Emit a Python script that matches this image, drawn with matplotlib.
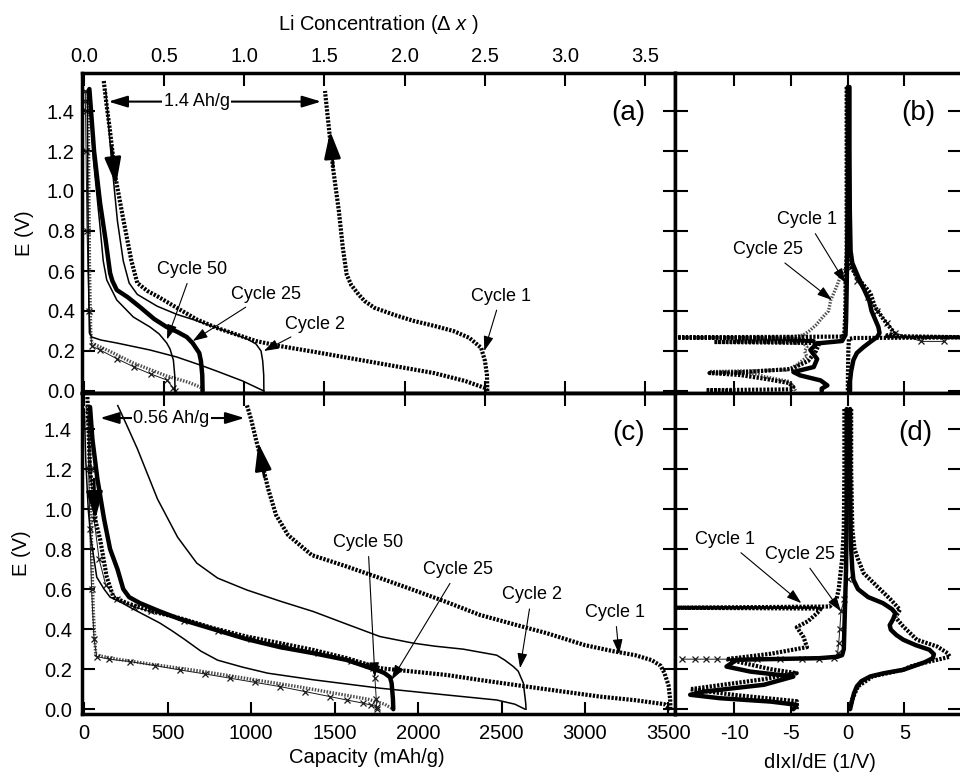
import matplotlib
matplotlib.use('Agg')
import matplotlib.pyplot as plt

plt.rcParams['font.family'] = ['Liberation Sans', 'DejaVu Sans']
plt.rcParams['mathtext.fontset'] = 'custom'
plt.rcParams['mathtext.rm'] = 'Liberation Sans'
plt.rcParams['mathtext.it'] = 'Liberation Sans:italic'

MAH_PER_LI = 960.0
li_ticks = [0.0, 0.5, 1.0, 1.5, 2.0, 2.5, 3.0, 3.5]
cap_ticks = [0, 500, 1000, 1500, 2000, 2500, 3000, 3500]
v_ticks = [0.0, 0.2, 0.4, 0.6, 0.8, 1.0, 1.2, 1.4]
dxde_ticks = [-10, -5, 0, 5]

# ---------------- panel (a): capacity (mAh/g) vs E (V)
a_c1_dis_cap = [118, 135, 154, 189, 237, 284, 319, 380, 438, 556, 674, 793, 911, 1029, 1171, 1384, 1621, 1857, 2094, 2283, 2401, 2415]
a_c1_dis_v = [1.55, 1.43, 1.31, 1.065, 0.85, 0.65, 0.54, 0.50, 0.474, 0.416, 0.358, 0.316, 0.283, 0.25, 0.225, 0.195, 0.16, 0.125, 0.09, 0.05, 0.015, 0.0]
a_c1_chg_cap = [2415, 2413, 2401, 2378, 2307, 2212, 2100, 1976, 1860, 1739, 1680, 1644, 1600, 1573, 1550, 1526, 1491, 1467, 1443]
a_c1_chg_v = [0.0, 0.08, 0.15, 0.216, 0.266, 0.30, 0.325, 0.35, 0.38, 0.416, 0.45, 0.483, 0.53, 0.582, 0.715, 0.90, 1.115, 1.31, 1.50]
a_c2_dis_cap = [20, 22, 26, 32, 46, 100, 196, 395, 555, 695, 793, 950, 1077]
a_c2_dis_v = [1.5, 1.1, 0.6, 0.29, 0.27, 0.255, 0.24, 0.205, 0.17, 0.13, 0.10, 0.05, 0.0]
a_c2_chg_cap = [1077, 1076, 1070, 1060, 1030, 982, 900, 793, 680, 556, 438, 319, 270, 235, 200, 165, 130]
a_c2_chg_v = [0.0, 0.08, 0.15, 0.2, 0.235, 0.258, 0.285, 0.316, 0.35, 0.383, 0.424, 0.483, 0.54, 0.65, 0.85, 1.15, 1.5]
a_c25_chg_cap = [710, 708, 700, 690, 650, 615, 560, 495, 420, 335, 260, 196, 170, 156, 130, 96, 60, 32]
a_c25_chg_v = [0.0, 0.08, 0.15, 0.19, 0.24, 0.27, 0.295, 0.32, 0.36, 0.42, 0.47, 0.505, 0.55, 0.59, 0.75, 0.94, 1.2, 1.51]
a_c25_dis_cap = [25, 28, 33, 40, 46, 150, 295, 495, 620, 695, 710]
a_c25_dis_v = [1.5, 1.1, 0.6, 0.3, 0.24, 0.2, 0.14, 0.075, 0.045, 0.02, 0.0]
a_c50_chg_cap = [545, 543, 535, 515, 495, 450, 395, 295, 196, 136, 115, 96, 56, 36]
a_c50_chg_v = [0.0, 0.08, 0.155, 0.21, 0.24, 0.285, 0.32, 0.37, 0.455, 0.555, 0.65, 0.82, 1.155, 1.49]
a_c50_dis_cap = [8, 8, 9, 12, 18, 30, 46, 96, 200, 300, 400, 495, 535, 545]
a_c50_dis_v = [1.5, 1.45, 1.4, 1.2, 0.8, 0.4, 0.225, 0.205, 0.16, 0.12, 0.085, 0.055, 0.015, 0.0]

# ---------------- panel (c)
c_c1_dis_cap = [20, 36, 56, 66, 96, 136, 176, 256, 400, 575, 774, 974, 1174, 1373, 1573, 1772, 1972, 2172, 2371, 2651, 2870, 3090, 3300, 3476, 3512]
c_c1_dis_v = [1.56, 1.18, 1.10, 0.95, 0.85, 0.66, 0.56, 0.53, 0.49, 0.455, 0.405, 0.363, 0.33, 0.296, 0.255, 0.205, 0.188, 0.171, 0.146, 0.113, 0.088, 0.063, 0.045, 0.025, 0.0]
c_c1_chg_cap = [3512, 3510, 3500, 3476, 3453, 3400, 3300, 3168, 3000, 2770, 2571, 2371, 2172, 1972, 1773, 1573, 1364, 1222, 1150, 1103, 1060, 1032, 1000, 973]
c_c1_chg_v = [0.0, 0.05, 0.12, 0.18, 0.217, 0.245, 0.27, 0.29, 0.32, 0.38, 0.425, 0.471, 0.535, 0.596, 0.655, 0.713, 0.77, 0.87, 0.97, 1.1, 1.25, 1.34, 1.45, 1.525]
c_c2_dis_cap = [2, 10, 25, 40, 76, 120, 156, 230, 295, 375, 455, 530, 600, 700, 800, 950, 1100, 1373, 1772, 2172, 2471, 2580, 2641]
c_c2_dis_v = [1.5, 1.25, 1.0, 0.86, 0.66, 0.6, 0.56, 0.53, 0.5, 0.465, 0.43, 0.39, 0.35, 0.29, 0.245, 0.21, 0.18, 0.147, 0.105, 0.071, 0.046, 0.025, 0.0]
c_c2_chg_cap = [2647, 2645, 2631, 2600, 2571, 2520, 2471, 2371, 2271, 2100, 1972, 1772, 1573, 1373, 1174, 974, 800, 675, 560, 440, 320, 250, 202]
c_c2_chg_v = [0.0, 0.03, 0.13, 0.19, 0.213, 0.245, 0.27, 0.285, 0.30, 0.315, 0.33, 0.363, 0.425, 0.488, 0.54, 0.596, 0.655, 0.73, 0.86, 1.05, 1.3, 1.43, 1.517]
c_c25_chg_cap = [1852, 1850, 1842, 1832, 1800, 1772, 1700, 1573, 1373, 1174, 974, 774, 575, 450, 335, 270, 235, 200, 156, 120, 80, 50, 36]
c_c25_chg_v = [0.0, 0.05, 0.13, 0.16, 0.18, 0.19, 0.21, 0.246, 0.28, 0.31, 0.35, 0.40, 0.45, 0.49, 0.53, 0.56, 0.6, 0.7, 0.8, 0.95, 1.15, 1.35, 1.51]
c_c25_dis_cap = [30, 40, 55, 70, 200, 400, 700, 1000, 1300, 1500, 1700, 1800, 1852]
c_c25_dis_v = [1.5, 1.0, 0.5, 0.27, 0.25, 0.225, 0.19, 0.15, 0.11, 0.08, 0.05, 0.025, 0.0]
c_c50_dis_cap = [24, 28, 35, 45, 60, 76, 150, 275, 425, 575, 725, 874, 1024, 1174, 1324, 1473, 1573, 1673, 1720, 1752]
c_c50_dis_v = [1.5, 1.2, 0.9, 0.6, 0.35, 0.263, 0.25, 0.238, 0.218, 0.196, 0.176, 0.155, 0.134, 0.113, 0.088, 0.063, 0.046, 0.03, 0.02, 0.013]
c_c50_chg_cap = [1752, 1750, 1742, 1733, 1700, 1600, 1400, 1200, 1000, 800, 600, 400, 300, 200, 130, 90, 60, 40, 25]
c_c50_chg_v = [0.0, 0.05, 0.155, 0.205, 0.22, 0.24, 0.28, 0.315, 0.35, 0.39, 0.44, 0.49, 0.51, 0.55, 0.62, 0.75, 0.95, 1.2, 1.45]

# ---------------- panel (b): d|x|/dE (1/V) vs E (V)
b_c25_chg_v = [1.52, 1.2, 0.9, 0.7, 0.64, 0.6, 0.56, 0.5, 0.45, 0.4, 0.36, 0.32, 0.29, 0.27, 0.25, 0.22, 0.19, 0.155, 0.1, 0.05, 0.0]
b_c25_chg_d = [0.15, 0.15, 0.18, 0.25, 0.4, 0.7, 1.0, 1.5, 1.9, 2.1, 2.4, 2.7, 2.8, 2.6, 2.1, 1.4, 0.8, 0.5, 0.3, 0.2, 0.2]
b_c1_chg_v = [1.52, 1.2, 0.9, 0.7, 0.62, 0.57, 0.49, 0.42, 0.355, 0.305, 0.288, 0.275, 0.268, 0.265, 0.26, 0.2, 0.1, 0.0]
b_c1_chg_d = [-0.05, -0.05, -0.05, 0.0, 0.3, 0.8, 2.0, 2.4, 3.2, 3.9, 4.1, 3.3, 11.0, 0.5, 0.1, 0.05, 0.02, 0.0]
b_c1_dis_v = [1.52, 1.0, 0.7, 0.6, 0.55, 0.45, 0.35, 0.29, 0.272, 0.268, 0.262, 0.25, 0.245, 0.24, 0.2, 0.15, 0.11, 0.095, 0.09, 0.08, 0.06, 0.04, 0.02, 0.008, 0.004, 0.0]
b_c1_dis_d = [-0.1, -0.1, -0.1, -0.15, -0.2, -0.2, -0.25, -0.3, -0.4, -16.0, -6.0, -3.0, -11.8, -2.5, -2.8, -3.5, -5.0, -9.0, -12.2, -9.5, -7.2, -5.2, -4.8, -5.0, -12.5, -10.0]
b_c25_dis_v = [1.52, 1.0, 0.7, 0.5, 0.35, 0.28, 0.25, 0.238, 0.205, 0.16, 0.12, 0.095, 0.078, 0.053, 0.028, 0.012, 0.0]
b_c25_dis_d = [0.0, 0.0, -0.05, -0.1, -0.15, -0.2, -0.5, -2.7, -3.3, -2.7, -3.0, -4.8, -4.2, -2.4, -1.8, -2.3, -2.3]
b_c50_dis_v = [0.62, 0.58, 0.52, 0.455, 0.40, 0.37, 0.33, 0.30, 0.28, 0.27, 0.267, 0.262, 0.25, 0.238, 0.22, 0.2, 0.17, 0.13, 0.105, 0.097, 0.085, 0.072, 0.047, 0.02, 0.0]
b_c50_dis_d = [-0.1, -0.6, -1.0, -1.5, -1.7, -2.2, -2.8, -3.4, -3.9, -5.0, -14.5, -4.0, -9.8, -3.9, -3.6, -3.8, -3.6, -4.5, -5.4, -12.2, -8.0, -7.4, -5.1, -4.8, -4.6]
b_c50_chg_v = [0.62, 0.55, 0.47, 0.40, 0.34, 0.29, 0.248, 0.248]
b_c50_chg_d = [0.3, 0.8, 1.8, 2.6, 3.5, 4.2, 6.5, 8.5]

# ---------------- panel (d)
d_c25_chg_v = [1.5, 1.2, 0.9, 0.8, 0.7, 0.647, 0.6, 0.56, 0.53, 0.5, 0.48, 0.45, 0.42, 0.397, 0.37, 0.347, 0.32, 0.297, 0.275, 0.255, 0.235, 0.215, 0.197, 0.18, 0.164, 0.14, 0.114, 0.08, 0.047, 0.0]
d_c25_chg_d = [0.2, 0.2, 0.25, 0.3, 0.4, 0.5, 0.9, 1.8, 3.1, 3.9, 4.2, 4.0, 3.7, 3.8, 4.3, 4.9, 6.0, 7.2, 7.6, 7.5, 6.8, 5.8, 4.9, 3.2, 2.0, 1.2, 0.8, 0.55, 0.4, 0.2]
d_c1_chg_v = [1.5, 1.2, 0.9, 0.8, 0.75, 0.68, 0.613, 0.547, 0.497, 0.46, 0.413, 0.38, 0.347, 0.313, 0.28, 0.262, 0.247, 0.23, 0.213, 0.197, 0.164, 0.114, 0.05, 0.0]
d_c1_chg_d = [0.3, 0.3, 0.4, 0.6, 0.9, 1.4, 2.6, 3.8, 4.6, 4.2, 4.9, 5.5, 6.1, 7.9, 8.8, 9.0, 7.9, 6.6, 5.5, 4.9, 2.2, 0.9, 0.4, 0.2]
d_c1_dis_v = [1.5, 1.2, 0.9, 0.75, 0.6, 0.547, 0.513, 0.507, 0.503, 0.5, 0.48, 0.44, 0.41, 0.36, 0.31, 0.277, 0.25, 0.2, 0.18, 0.15, 0.1, 0.07, 0.04, 0.0]
d_c1_dis_d = [-0.3, -0.3, -0.35, -0.5, -0.8, -1.0, -1.6, -15.5, -3.0, -2.4, -2.7, -3.5, -4.5, -3.9, -3.6, -6.8, -10.7, -6.8, -4.5, -7.4, -13.9, -9.8, -4.5, -4.5]
d_c25_dis_v = [1.5, 1.0, 0.7, 0.5, 0.4, 0.3, 0.27, 0.262, 0.255, 0.247, 0.213, 0.188, 0.163, 0.122, 0.088, 0.072, 0.055, 0.038, 0.022, 0.0]
d_c25_dis_d = [-0.1, -0.1, -0.15, -0.25, -0.3, -0.35, -0.5, -0.9, -2.5, -9.8, -10.7, -8.6, -4.8, -7.4, -12.7, -13.9, -11.3, -6.8, -4.5, -4.8]
d_c50_dis_v = [0.65, 0.55, 0.489, 0.4, 0.33, 0.28, 0.258, 0.252, 0.25, 0.25, 0.25, 0.25, 0.25, 0.25, 0.25, 0.25]
d_c50_dis_d = [0.0, -0.3, -0.6, -0.7, -0.8, -0.9, -1.2, -2.5, -4.0, -6.0, -8.0, -10.0, -11.5, -12.5, -13.5, -14.6]

# line looks
CHAIN = dict(color='k', lw=3.0, ls=(0, (0.55, 0.35)), dash_capstyle='butt')
THIN = dict(color='k', lw=1.1)
THICK = dict(color='k', lw=3.2, solid_capstyle='round')
HATCH = dict(color='0.3', lw=2.4, ls=(0, (0.45, 0.45)), dash_capstyle='butt')
XLINE = dict(color='0.1', lw=0.7, marker='x', ms=4, mew=0.9)

FS = 14.5
W, H = 960.0, 774.0
fig = plt.figure(figsize=(9.6, 7.74), dpi=100)
ax_a = fig.add_axes([81.7 / W, 1 - 393 / H, (675 - 81.7) / W, 320 / H])
ax_c = fig.add_axes([81.7 / W, 1 - 714 / H, (675 - 81.7) / W, 321 / H])
ax_b = fig.add_axes([675 / W, 1 - 393 / H, 285 / W, 320 / H])
ax_d = fig.add_axes([675 / W, 1 - 714 / H, 285 / W, 321 / H])

# panel (a)
ax_a.plot(a_c25_dis_cap, a_c25_dis_v, **HATCH)
ax_a.plot(a_c50_dis_cap, a_c50_dis_v, **XLINE)
ax_a.plot(a_c50_chg_cap, a_c50_chg_v, **THIN)
ax_a.plot(a_c2_dis_cap, a_c2_dis_v, **THIN)
ax_a.plot(a_c2_chg_cap, a_c2_chg_v, **THIN)
ax_a.plot(a_c1_dis_cap, a_c1_dis_v, **CHAIN)
ax_a.plot(a_c1_chg_cap, a_c1_chg_v, **CHAIN)
ax_a.plot(a_c25_chg_cap, a_c25_chg_v, **THICK)

# panel (c)
ax_c.plot(c_c25_dis_cap, c_c25_dis_v, **HATCH)
ax_c.plot(c_c50_dis_cap, c_c50_dis_v, **XLINE)
ax_c.plot(c_c50_chg_cap, c_c50_chg_v, **XLINE)
ax_c.plot(c_c2_dis_cap, c_c2_dis_v, **THIN)
ax_c.plot(c_c2_chg_cap, c_c2_chg_v, **THIN)
ax_c.plot(c_c1_dis_cap, c_c1_dis_v, **CHAIN)
ax_c.plot(c_c1_chg_cap, c_c1_chg_v, **CHAIN)
ax_c.plot(c_c25_chg_cap, c_c25_chg_v, **THICK)

# panel (b)
ax_b.plot(b_c50_dis_d, b_c50_dis_v, **HATCH)
ax_b.plot(b_c50_chg_d, b_c50_chg_v, **XLINE)
ax_b.plot(b_c1_dis_d, b_c1_dis_v, **CHAIN)
ax_b.plot(b_c1_chg_d, b_c1_chg_v, **CHAIN)
ax_b.plot(b_c25_dis_d, b_c25_dis_v, **THICK)
ax_b.plot(b_c25_chg_d, b_c25_chg_v, **THICK)

# panel (d)
ax_d.plot(d_c50_dis_d, d_c50_dis_v, **XLINE)
ax_d.plot(d_c1_dis_d, d_c1_dis_v, **CHAIN)
ax_d.plot(d_c1_chg_d, d_c1_chg_v, **CHAIN)
ax_d.plot(d_c25_dis_d, d_c25_dis_v, **THICK)
ax_d.plot(d_c25_chg_d, d_c25_chg_v, **THICK)


def label(ax, text, xy_text, xy_tip):
    ax.annotate(text, xy=xy_tip, xytext=xy_text, ha='center', va='center', fontsize=13,
                arrowprops=dict(arrowstyle='-|>,head_length=0.9,head_width=0.3', color='k',
                                lw=0.8, mutation_scale=10, shrinkA=2, shrinkB=0))


def big_arrow(ax, tail, tip):
    ax.annotate('', xy=tip, xytext=tail,
                arrowprops=dict(arrowstyle='-|>,head_length=1.65,head_width=0.5', color='k',
                                lw=2, mutation_scale=10, shrinkA=0, shrinkB=0))


def span(ax, x0, x1, y, text, xt):
    ax.annotate('', xy=(x1, y), xytext=(x0, y),
                arrowprops=dict(arrowstyle='<|-|>,head_length=1.15,head_width=0.35', color='k',
                                lw=1.5, mutation_scale=10, shrinkA=0, shrinkB=0))
    ax.text(xt, y, text, ha='center', va='center', fontsize=13, zorder=5,
            bbox=dict(fc='white', ec='none', pad=1))


label(ax_a, 'Cycle 50', (647, 0.607), (497, 0.258))
label(ax_a, 'Cycle 25', (1088, 0.483), (651, 0.25))
label(ax_a, 'Cycle 2', (1384, 0.333), (1077, 0.2))
label(ax_a, 'Cycle 1', (2496, 0.474), (2397, 0.2))
big_arrow(ax_a, (165, 1.22), (192, 1.03))
big_arrow(ax_a, (1492, 1.12), (1474, 1.30))
span(ax_a, 146, 1420, 1.447, '1.4 Ah/g', 674)

label(ax_c, 'Cycle 50', (1700, 0.833), (1742, 0.16))
label(ax_c, 'Cycle 25', (2241, 0.697), (1842, 0.147))
label(ax_c, 'Cycle 2', (2681, 0.571), (2611, 0.205))
label(ax_c, 'Cycle 1', (3180, 0.483), (3204, 0.275))
big_arrow(ax_c, (60, 1.15), (68, 0.95))
big_arrow(ax_c, (1080, 1.16), (1044, 1.33))
span(ax_c, 96, 961, 1.455, '0.56 Ah/g', 522)

label(ax_b, 'Cycle 1', (-3.6, 0.855), (-0.2, 0.54))
label(ax_b, 'Cycle 25', (-7.0, 0.705), (-1.4, 0.455))
label(ax_d, 'Cycle 1', (-10.8, 0.847), (-4.1, 0.53))
label(ax_d, 'Cycle 25', (-4.2, 0.772), (-0.6, 0.489))

# axes limits, ticks, frames
for ax in (ax_a, ax_c):
    ax.set_xlim(-14, 3539)
for ax in (ax_b, ax_d):
    ax.set_xlim(-15.24, 9.9)
ax_a.set_ylim(-0.01, 1.59)
ax_b.set_ylim(-0.01, 1.59)
ax_c.set_ylim(-0.024, 1.58)
ax_d.set_ylim(-0.024, 1.58)

v_labels = ['%.1f' % v for v in v_ticks]
for ax in (ax_a, ax_b, ax_c, ax_d):
    ax.tick_params(direction='in', length=9, width=1.5, top=True, right=True,
                   labelsize=FS, pad=7)
    for s in ax.spines.values():
        s.set_linewidth(2.5)
    ax.set_yticks(v_ticks)

li_pos = [l * MAH_PER_LI for l in li_ticks]
ax_a.set_xticks(li_pos)
ax_a.set_xticklabels(['%.1f' % l for l in li_ticks])
ax_a.tick_params(labelbottom=False, labeltop=True, pad=5)
ax_a.xaxis.set_label_position('top')
ax_a.set_xlabel(r'Li Concentration ($\Delta$ $\mathit{x}$ )', fontsize=FS, labelpad=12)
ax_a.set_yticklabels(v_labels)
ax_a.set_ylabel('E (V)', fontsize=FS, labelpad=9)

ax_c.set_xticks(cap_ticks)
ax_c.set_xticklabels([str(c) for c in cap_ticks])
ax_c.tick_params(top=False)
ax_c.set_yticklabels(v_labels)
ax_c.set_ylabel('E (V)', fontsize=FS, labelpad=9)
ax_c.set_xlabel('Capacity (mAh/g)', fontsize=FS)
ax_c.xaxis.set_label_coords(0.481, -0.105)
sec = ax_c.secondary_xaxis('top', functions=(lambda c: c / MAH_PER_LI, lambda l: l * MAH_PER_LI))
sec.set_xticks(li_ticks)
sec.tick_params(direction='in', length=9, width=1.5, labeltop=False)
sec.spines['top'].set_linewidth(2.5)

for ax in (ax_b, ax_d):
    ax.set_xticks(dxde_ticks)
    ax.tick_params(labelleft=False)
    ax.spines['right'].set_visible(False)
ax_b.tick_params(labelbottom=False)
ax_d.set_xticklabels([str(t) for t in dxde_ticks])
ax_d.set_xlabel('dIxI/dE (1/V)', fontsize=FS)
ax_d.xaxis.set_label_coords(0.509, -0.12)

for ax, t, xf in ((ax_a, '(a)', 0.921), (ax_b, '(b)', 0.853), (ax_c, '(c)', 0.921), (ax_d, '(d)', 0.842)):
    ax.text(xf, 0.875, t, transform=ax.transAxes, ha='center', va='center', fontsize=20)

fig.savefig('out.png', dpi=100)
